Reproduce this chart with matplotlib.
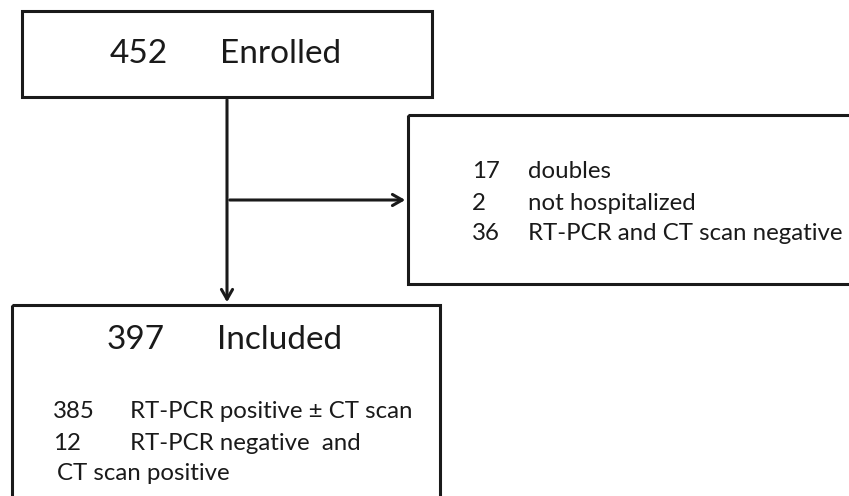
import matplotlib.pyplot as plt
from matplotlib.patches import Rectangle

plt.rcParams['font.family'] = ['Lato', 'DejaVu Sans']

enrolled = 452
included = 397
excluded_counts = [17, 2, 36]
excluded_labels = ['doubles', 'not hospitalized', 'RT-PCR and CT scan negative']
included_counts = [385, 12]
included_labels = ['RT-PCR positive \u00b1 CT scan', 'RT-PCR negative  and']
included_extra = 'CT scan positive'

fig = plt.figure(figsize=(8.49, 4.96), dpi=100)
ax = fig.add_axes([0, 0, 1, 1])
ax.set_xlim(0, 849)
ax.set_ylim(496, 0)
ax.axis('off')

lw = 2.2
col = '#1a1a1a'
big = 24
small = 17.3

# boxes
ax.add_patch(Rectangle((22, 11), 410, 86, fill=False, lw=lw, ec=col))
ax.add_patch(Rectangle((408, 115), 460, 169, fill=False, lw=lw, ec=col, clip_on=True))
ax.add_patch(Rectangle((12, 305), 428, 220, fill=False, lw=lw, ec=col, clip_on=True))

# arrows
arrow = dict(arrowstyle='->,head_length=0.7,head_width=0.4', lw=lw, color=col)
ax.annotate('', xy=(227, 305), xytext=(227, 97), arrowprops=arrow)
ax.annotate('', xy=(408, 200), xytext=(227, 200), arrowprops=arrow)

# box 1
ax.text(110, 54, str(enrolled), fontsize=big, va='center', color=col)
ax.text(220, 54, 'Enrolled', fontsize=big, va='center', color=col)

# box 2
for i, (n, lab) in enumerate(zip(excluded_counts, excluded_labels)):
    y = 172 + i * 31
    ax.text(472, y, str(n), fontsize=small, va='center', color=col)
    ax.text(528, y, lab, fontsize=small, va='center', color=col)

# box 3
ax.text(107, 340, str(included), fontsize=big, va='center', color=col)
ax.text(217, 340, 'Included', fontsize=big, va='center', color=col)
for i, (n, lab) in enumerate(zip(included_counts, included_labels)):
    y = 412 + i * 31
    ax.text(53, y, str(n), fontsize=small, va='center', color=col)
    ax.text(130, y, lab, fontsize=small, va='center', color=col)
ax.text(57, 474, included_extra, fontsize=small, va='center', color=col)

fig.savefig('out.png', dpi=100)
